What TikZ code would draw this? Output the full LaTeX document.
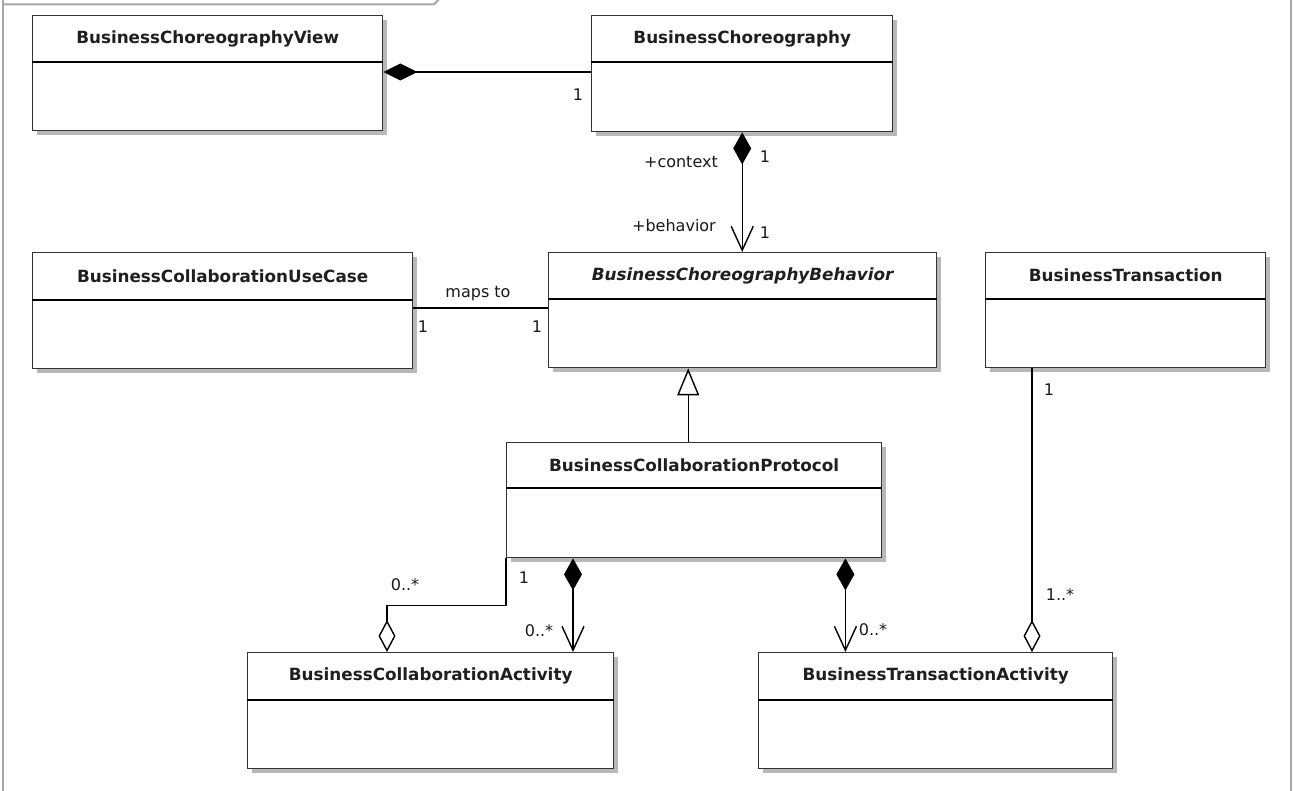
\documentclass[tikz,border=0pt]{standalone}
\usepackage{fontspec}
\setmainfont{DejaVu Sans}
\usetikzlibrary{arrows.meta,shadows,calc}
\definecolor{boxline}{HTML}{333333}
\definecolor{framecol}{HTML}{A8A8A8}
\definecolor{shadowcol}{HTML}{B8B8B8}
\tikzset{
  cls/.style={draw=boxline, line width=1.4pt, fill=white, rectangle, inner sep=0pt,
    drop shadow={shadow xshift=4pt, shadow yshift=-4pt, fill=shadowcol, opacity=1}},
  divider/.style={draw=black, line width=1.4pt},
  ctitle/.style={font=\fontsize{16.8}{20}\selectfont\bfseries, text=black!88, inner sep=0pt},
  lbl/.style={font=\fontsize{16}{19}\selectfont, text=black!90, inner sep=0pt},
  conn/.style={draw=black, line width=1.4pt},
  comp/.style={conn, {Diamond[length=32pt,width=18pt,fill=black]}-{Straight Barb[length=24pt,width=22pt,line width=1.4pt]}},
  compend/.style={conn, -{Diamond[length=34pt,width=17pt,fill=black]}},
  aggr/.style={conn, -{Diamond[open,length=32pt,width=17pt,fill=white,line width=1.4pt]}},
  gen/.style={conn, -{Triangle[open,length=27pt,width=22pt,fill=white,line width=1.4pt]}},
  framestyle/.style={draw=framecol, line width=2pt}
}
\newcommand\umlclass[8][]{%
  \node[cls, minimum width=#5pt, minimum height=#6pt, anchor=north west] (#2) at (#3,#4) {};
  \draw[divider] ([yshift=-#7pt]#2.north west) -- ([yshift=-#7pt]#2.north east);
  \node[ctitle, #1] (#2-t) at ($(#2.north)+(0,#7/2)$) {#8};
}
\begin{document}
\begin{tikzpicture}[x=1pt,y=-1pt]
\useasboundingbox (0,0) rectangle (1293,791);
% package frame
\draw[framestyle] (3,-2) coordinate (fa) -- (3,795) coordinate (fb);
\draw[framestyle] (3,4.5) coordinate (fc) -- (434,4.5) coordinate (fd) -- (441,-3) coordinate (fe);
\draw[framestyle] (1291,-2) coordinate (ff) -- (1291,795) coordinate (fg);

% classes
\umlclass{bcv}{32}{15}{350}{115}{47}{BusinessChoreographyView}
\umlclass{bc}{591}{15}{301}{116}{47}{BusinessChoreography}
\umlclass{bcuc}{32}{252}{380}{116}{48}{BusinessCollaborationUseCase}
\umlclass[font=\fontsize{16.8}{20}\selectfont\bfseries\itshape]{bcb}{548}{252}{388}{115}{47}{BusinessChoreographyBehavior}
\umlclass{bt}{985}{252}{280}{115}{47}{BusinessTransaction}
\umlclass{bcp}{506}{442}{375}{115}{46}{BusinessCollaborationProtocol}
\umlclass{bca}{247}{652}{366}{116}{48}{BusinessCollaborationActivity}
\umlclass{bta}{758}{652}{354}{116}{48}{BusinessTransactionActivity}

% BusinessChoreography -- BusinessChoreographyView (composition)
\coordinate (p1) at ([yshift=-57pt]bc.north west);
\draw[compend] (p1) -- (p1 -| bcv.east);
\node[lbl] (l1) at (578,95) {1};

% BusinessChoreography -> BusinessChoreographyBehavior
\draw[comp] (bc.south) -- (bc.south |- bcb.north);
\node[lbl, anchor=east] (l2) at (718,162) {+context};
\node[lbl] (l3) at (765,157) {1};
\node[lbl, anchor=east] (l4) at (716,226) {+behavior};
\node[lbl] (l5) at (765,233) {1};

% maps to
\coordinate (p2) at ([yshift=-56pt]bcuc.north east);
\draw[conn] (p2) -- (p2 -| bcb.west);
\node[lbl] (l6) at (478,294) {maps to};
\node[lbl] (l7) at (423,327) {1};
\node[lbl] (l8) at (537,327) {1};

% generalization
\coordinate (p3) at ([xshift=-6pt]bcp.north);
\draw[gen] (p3) -- (p3 |- bcb.south);

% BCP -- BCA aggregation
\draw[aggr] (bcp.south west) -- ++(0,47) -| ([xshift=140pt]bca.north west);
\node[lbl] (l9) at (405,585) {0..*};
\node[lbl] (l10) at (524,578) {1};

% BCP -> BCA composition
\coordinate (p4) at ([xshift=67pt]bcp.south west);
\draw[comp] (p4) -- (p4 |- bca.north);
\node[lbl] (l11) at (539,631) {0..*};

% BCP -> BTA composition
\coordinate (p5) at ([xshift=-37pt]bcp.south east);
\draw[comp] (p5) -- (p5 |- bta.north);
\node[lbl] (l12) at (873,630) {0..*};

% BT -- BTA aggregation
\coordinate (p6) at ([xshift=47pt]bt.south west);
\draw[aggr] (p6) -- (p6 |- bta.north);
\node[lbl] (l13) at (1049,390) {1};
\node[lbl] (l14) at (1060,595) {1..*};
\end{tikzpicture}
\end{document}
